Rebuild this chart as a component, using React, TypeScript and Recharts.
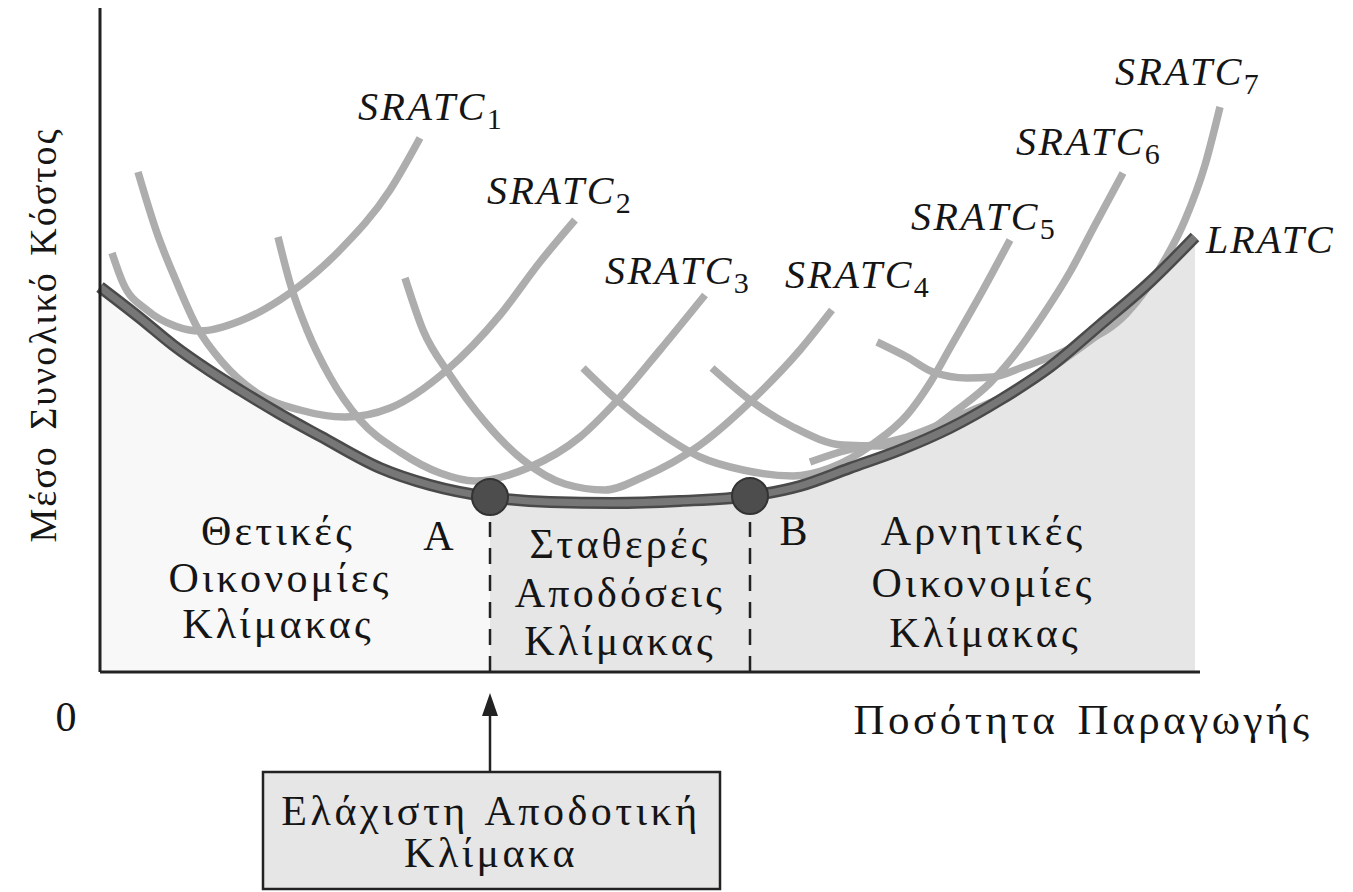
import React from 'react'
import {
  ComposedChart, Line, Area, Scatter, XAxis, YAxis, ReferenceLine,
} from 'recharts'

// q = quantity, c = average cost (arbitrary units)
const lratc: [number, number][] = [
  [0, 38.5], [4, 35.4], [7.3, 32.7], [11, 30.1], [14, 28.2], [18, 25.8], [22, 23.6],
  [28, 20.4], [33, 18.7], [39, 17.5], [45, 17.0], [51.3, 16.9], [58, 17.1], [65, 17.6],
  [70, 18.6], [75, 20.4], [80, 22.2], [85, 24.4], [90, 27.2], [95, 30.5], [100, 34.7],
  [105, 39.0], [109.5, 43.5],
]
const sratc1: [number, number][] = [
  [1.2, 41.9], [2.3, 38.9], [4.7, 36.2], [7.5, 34.6], [10, 34.1], [14, 35.1],
  [19, 37.9], [24, 42.2], [29, 48.2], [32, 53.4],
]
const sratc2: [number, number][] = [
  [3.8, 50], [5.7, 43.9], [7.7, 38.9], [9.7, 34.5], [12.3, 30.9], [15.7, 27.9],
  [20, 26.2], [24.5, 25.5], [29, 26.4], [34.7, 30.2], [40, 35.7], [44, 41], [47.5, 45.2],
]
const sratc3: [number, number][] = [
  [17.8, 43.5], [19, 38.9], [20.7, 34.2], [23, 29.5], [26, 25.2], [30, 22], [34, 19.9],
  [37.5, 19.1], [43, 20.5], [48, 23.5], [51.3, 26.7], [56, 32.2], [60.5, 37.7],
]
const sratc4: [number, number][] = [
  [30.5, 39.4], [32.3, 34.2], [35, 29.7], [38.5, 25], [42.3, 21.2], [46.5, 18.8],
  [50.5, 18.2], [54.3, 19.5], [60, 22.7], [65, 27], [70, 32.2], [73.2, 36.2],
]
const sratc5: [number, number][] = [
  [48.3, 30.4], [51.7, 27.2], [56, 23.9], [60, 21.5], [64.3, 20.2], [69.3, 19.6],
  [73, 20.4], [77.3, 22.8], [80.7, 25.7], [83, 28.9], [85, 32.4], [88.3, 38.2], [91, 43.2],
]
const sratc6: [number, number][] = [
  [61.2, 30.4], [65, 27.2], [69.3, 24.5], [74.3, 22.7], [78, 22.6], [82, 23.6],
  [85.7, 26.2], [89, 28.9], [91.3, 31.5], [94.3, 35.7], [97, 40], [99.5, 44.7], [102.3, 49.9],
]
const sratc7: [number, number][] = [
  [77.7, 33], [80.7, 31.5], [83.3, 30], [86.7, 29.4], [89.3, 29.5], [92.3, 30.5],
  [97.3, 32.5], [102.7, 35.9], [106, 40.4], [108.5, 45.2], [110.5, 50.7], [112, 56.5],
]
// the extra faint stroke under SRATC6/7 in the scan
const strayArc: [number, number][] = [
  [71, 21], [74, 22], [80.7, 23.5], [87.3, 26.2], [92.3, 28.5], [97.3, 31.9], [102.7, 35.9],
]
const minScale: [number, number][] = [[39, 17.5], [65, 17.6]] // A, B

const qA = 39
const qB = 65

const pts = (a: [number, number][]) => a.map(([q, c]) => ({ q, c }))
const shadeLeft = pts(lratc.filter(([q]) => q <= qA))
const shadeRight = pts(lratc.filter(([q]) => q >= qA))

const srCurves = [sratc1, sratc2, sratc3, sratc4, sratc5, sratc6, sratc7, strayArc]

const W = 1353
const H = 892
const SERIF = '"Liberation Serif", "DejaVu Serif", serif'

const srLabels = [
  { n: '1', x: 358, y: 120 },
  { n: '2', x: 487, y: 204 },
  { n: '3', x: 605, y: 284 },
  { n: '4', x: 785, y: 288 },
  { n: '5', x: 911, y: 230 },
  { n: '6', x: 1016, y: 155 },
  { n: '7', x: 1115, y: 85 },
]

export default function App() {
  return (
    <div style={{ position: 'absolute', left: 0, top: 0, width: W, height: H, background: '#fff' }}>
      <ComposedChart width={W} height={H} margin={{ top: 0, right: 83, bottom: 220, left: 100 }}>
        <XAxis type="number" dataKey="q" domain={[0, 117]} hide />
        <YAxis type="number" dataKey="c" domain={[0, 67.2]} hide />

        <Area data={shadeLeft} dataKey="c" type="monotone" stroke="none" fill="#f8f8f8" fillOpacity={1} baseValue={0} isAnimationActive={false} />
        <Area data={shadeRight} dataKey="c" type="monotone" stroke="none" fill="#e6e6e6" fillOpacity={1} baseValue={0} isAnimationActive={false} />

        <ReferenceLine segment={[{ x: qA, y: 0 }, { x: qA, y: 15 }]} stroke="#222" strokeWidth={2.5} strokeDasharray="16 11" />
        <ReferenceLine segment={[{ x: qB, y: 0 }, { x: qB, y: 15 }]} stroke="#222" strokeWidth={2.5} strokeDasharray="16 11" />

        {srCurves.map((s, i) => (
          <Line key={i} data={pts(s)} dataKey="c" type="monotone" stroke="#adadad" strokeWidth={7.5} dot={false} isAnimationActive={false} />
        ))}

        <Line data={pts(lratc)} dataKey="c" type="monotone" stroke="#4a4a4a" strokeWidth={12} dot={false} isAnimationActive={false} />
        <Line data={pts(lratc)} dataKey="c" type="monotone" stroke="#777" strokeWidth={7} dot={false} isAnimationActive={false} />

        <Scatter data={pts(minScale)} dataKey="c" fill="#4d4d4d" isAnimationActive={false}
          shape={(p: any) => <circle cx={p.cx} cy={p.cy} r={18} fill="#4d4d4d" stroke="#333" strokeWidth={2} />} />

        <ReferenceLine segment={[{ x: 0, y: 0 }, { x: 110, y: 0 }]} stroke="#222" strokeWidth={3} />
        <ReferenceLine segment={[{ x: 0, y: 0 }, { x: 0, y: 66.4 }]} stroke="#222" strokeWidth={3} />
      </ComposedChart>

      <svg width={W} height={H} style={{ position: 'absolute', left: 0, top: 0, pointerEvents: 'none' }}
        fontFamily={SERIF} fill="#151515">
        {srLabels.map((l) => (
          <text key={l.n} x={l.x} y={l.y} fontSize={40} fontStyle="italic" letterSpacing={2.5}>
            SRATC<tspan fontSize={30} fontStyle="normal" dy={9}>{l.n}</tspan>
          </text>
        ))}
        <text x={1206} y={253} fontSize={40} fontStyle="italic" letterSpacing={2}>LRATC</text>

        <text transform="rotate(-90 56 335)" x={56} y={335} fontSize={38} textAnchor="middle" letterSpacing={2} wordSpacing={4}>
          Μέσο Συνολικό Κόστος
        </text>
        <text x={66} y={731} fontSize={42} textAnchor="middle">0</text>
        <text x={1083} y={734} fontSize={43} textAnchor="middle" letterSpacing={3.5} wordSpacing={5}>Ποσότητα Παραγωγής</text>

        <g fontSize={42} textAnchor="middle" letterSpacing={3.2}>
          <text x={278} y={545}>Θετικές</text>
          <text x={280} y={592}>Οικονομίες</text>
          <text x={278} y={638}>Κλίμακας</text>
          <text x={440} y={550}>A</text>
          <text x={620} y={558}>Σταθερές</text>
          <text x={620} y={607}>Αποδόσεις</text>
          <text x={620} y={655}>Κλίμακας</text>
          <text x={795} y={545}>B</text>
          <text x={983} y={545}>Αρνητικές</text>
          <text x={983} y={597}>Οικονομίες</text>
          <text x={985} y={647}>Κλίμακας</text>
        </g>

        <line x1={490} y1={772} x2={490} y2={712} stroke="#222" strokeWidth={2.5} />
        <polygon points="490,693 482,716 498,716" fill="#222" />
        <rect x={263} y={772} width={457} height={117} fill="#e6e6e6" stroke="#222" strokeWidth={2.5} />
        <g fontSize={42} textAnchor="middle" letterSpacing={3.5} wordSpacing={4}>
          <text x={491} y={825}>Ελάχιστη Αποδοτική</text>
          <text x={491} y={867}>Κλίμακα</text>
        </g>
      </svg>
    </div>
  )
}
